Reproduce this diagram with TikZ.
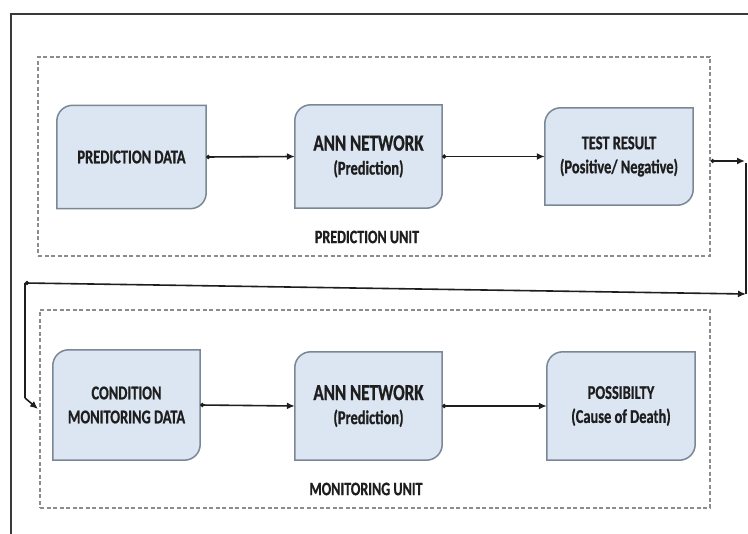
\documentclass[tikz,border=0pt]{standalone}
\usepackage{fontspec}
\newfontfamily\lblfont[FakeStretch=0.74, BoldFeatures={FakeBold=0.8}]{Carlito}
\usetikzlibrary{arrows.meta,backgrounds}

\definecolor{boxfill}{HTML}{DCE6F2}
\definecolor{boxedge}{HTML}{7A8795}
\definecolor{ink}{HTML}{1E1E1E}
\definecolor{dashgray}{HTML}{8C8C8C}
\definecolor{framegray}{HTML}{3A3A3A}

\tikzset{
  stage/.style={inner sep=0pt, align=center, text=ink,
    font=\lblfont\bfseries\fontsize{19.5}{24}\selectfont},
  boxshape/.style={fill=boxfill, draw=boxedge, line width=1.5pt},
  unitbox/.style={draw=dashgray, line width=1.3pt, dash pattern=on 4pt off 2.5pt,
    inner sep=0pt},
  unitlabel/.style={text=ink, font=\lblfont\bfseries\fontsize{19}{20}\selectfont},
  conn/.style={draw=ink, line width=1.6pt,
    arrows={Circle[length=4pt]-Latex[length=8pt,width=7pt]}},
  link/.style={draw=ink, line width=1.6pt},
  tiparrow/.style={draw=ink, line width=1.6pt, arrows={-Latex[length=8pt,width=7pt]}},
}

% box with rounded top-left and bottom-right corners, drawn behind a named node
\newcommand\stageshape[1]{%
  \path[boxshape] (#1.south west) -- ([yshift=-16pt]#1.north west)
    .. controls ([yshift=-7pt]#1.north west) and ([xshift=7pt]#1.north west) .. ([xshift=16pt]#1.north west)
    -- (#1.north east) -- ([yshift=16pt]#1.south east)
    .. controls ([yshift=7pt]#1.south east) and ([xshift=-7pt]#1.south east) .. ([xshift=-16pt]#1.south east) -- cycle;}

\begin{document}
\begin{tikzpicture}[x=1pt, y=-1pt]
\useasboundingbox (0,0) rectangle (748,534);

% outer frame (top and left edges)
\draw[framegray, line width=2pt] (11,534) -- (11,14) -- (748,14);

% unit frames
\node[unitbox, minimum width=672pt, minimum height=199pt] (pu) at (374,156.5) {};
\node[unitbox, minimum width=670pt, minimum height=198pt] (mu) at (375,409) {};

% prediction stages
\node[stage, minimum width=149pt, minimum height=103pt] (pdata) at (131.5,157) {PREDICTION DATA};
\node[stage, minimum width=147pt, minimum height=103pt] (pann) at (368.5,156.5) {{\fontsize{23}{24}\selectfont ANN NETWORK}\\(Prediction)};
\node[stage, minimum width=148pt, minimum height=97pt] (pres) at (619,156.5) {TEST RESULT\\(Positive/ Negative)};

% monitoring stages
\node[stage, minimum width=147pt, minimum height=110pt] (mdata) at (126.5,405) {CONDITION\\MONITORING DATA};
\node[stage, minimum width=147pt, minimum height=108pt] (mann) at (368.5,406) {{\fontsize{23}{24}\selectfont ANN NETWORK}\\(Prediction)};
\node[stage, minimum width=148pt, minimum height=108pt] (mres) at (621,406) {POSSIBILTY\\(Cause of Death)};

\begin{scope}[on background layer]
  \fill[white] (0,0) rectangle (748,534);
  \stageshape{pdata}
  \stageshape{pann}
  \stageshape{pres}
  \stageshape{mdata}
  \stageshape{mann}
  \stageshape{mres}
\end{scope}

% unit captions
\node[unitlabel] (plabel) at (367,237) {PREDICTION UNIT};
\node[unitlabel] (mlabel) at (366,489) {MONITORING UNIT};

% flow within the prediction unit
\draw[conn] (pdata.east) -- (pann.west);
\draw[conn] (pann.east) -- (pres.west);

% flow within the monitoring unit
\draw[conn] (mdata.east) -- (mann.west);
\draw[conn] (mann.east) -- (mres.west);

% return path from the prediction unit to the monitoring unit
\coordinate (r1) at (745,161);
\coordinate (r1b) at (746,163);
\coordinate (r2) at (746,294);
\coordinate (l1) at (25,283);
\coordinate (l2) at (25,398);
\coordinate (l3) at (38,409);
\draw[conn] (pu.east |- r1) -- (r1);
\draw[link] (r1b) -- (r2);
\draw[conn] (l1) -- (r2);
\draw[link] (l1) -- (l2);
\draw[tiparrow] (l2) -- (l3);
\end{tikzpicture}
\end{document}
